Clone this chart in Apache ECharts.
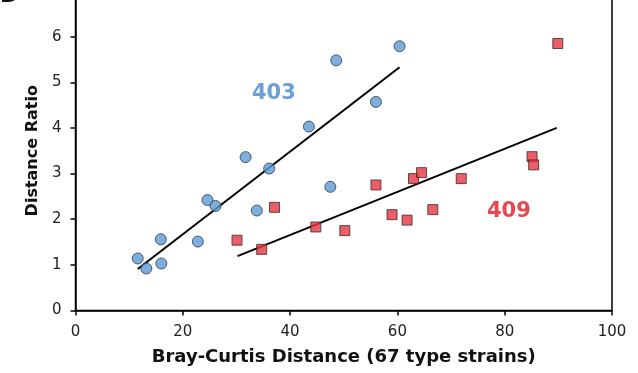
<!DOCTYPE html>
<html>
<head>
<meta charset="utf-8">
<script src="https://cdn.jsdelivr.net/npm/echarts@6/dist/echarts.min.js"></script>
<style>
html,body{margin:0;padding:0;background:#fff;}
#chart{width:638px;height:373px;}
</style>
</head>
<body>
<div id="chart"></div>
<script>
// Strain 403 (blue circles): [Bray-Curtis distance, distance ratio]
const strain403 = [
  [11.6,1.14],[13.2,0.92],[15.9,1.56],[16.0,1.03],[22.8,1.51],
  [24.6,2.42],[26.1,2.29],[31.7,3.36],[33.8,2.19],[36.1,3.11],
  [43.5,4.03],[47.5,2.71],[48.6,5.48],[56.0,4.57],[60.4,5.79]
];
// Strain 409 (red squares)
const strain409 = [
  [30.1,1.54],[34.7,1.34],[37.1,2.26],[44.8,1.83],[50.2,1.75],
  [56.0,2.75],[59.0,2.10],[61.8,1.98],[63.0,2.89],[64.5,3.02],
  [66.6,2.21],[71.9,2.89],[85.1,3.37],[85.4,3.19],[89.9,5.85]
];
// Fitted trend lines (endpoints)
const fit403 = [[11.6,0.91],[60.4,5.33]];
const fit409 = [[30.2,1.19],[89.7,4.00]];
const xTicks = [0,20,40,60,80,100];
const yTicks = [0,1,2,3,4,5,6,7];

const chart = echarts.init(document.getElementById('chart'), null, {renderer:'canvas'});
const font = 'DejaVu Sans, Verdana, sans-serif';
chart.setOption({
  animation:false,
  backgroundColor:'#ffffff',
  grid:{left:75.5,right:26,top:-9,bottom:62.5,show:true,borderColor:'#000',borderWidth:1.5,
        backgroundColor:'transparent',containLabel:false,outerBoundsMode:'none'},
  xAxis:{
    type:'value',min:xTicks[0],max:xTicks[xTicks.length-1],interval:20,
    name:'Bray-Curtis Distance (67 type strains)',nameLocation:'middle',nameGap:38,
    nameTextStyle:{fontFamily:font,fontWeight:'bold',fontSize:18,color:'#111'},
    axisLine:{show:true,lineStyle:{color:'#000',width:1.5}},
    axisTick:{show:true,length:5,lineStyle:{color:'#000',width:1.5}},
    axisLabel:{fontFamily:font,fontSize:15,color:'#222',margin:14},
    splitLine:{show:false}
  },
  yAxis:{
    type:'value',min:yTicks[0],max:yTicks[yTicks.length-1],interval:1,
    name:'Distance Ratio',nameLocation:'middle',nameGap:24,
    nameTextStyle:{fontFamily:font,fontWeight:'bold',fontSize:16,color:'#111'},
    axisLine:{show:true,lineStyle:{color:'#000',width:1.5}},
    axisTick:{show:true,length:5,lineStyle:{color:'#000',width:1.5}},
    axisLabel:{fontFamily:font,fontSize:15,color:'#222',margin:14},
    splitLine:{show:false}
  },
  graphic:[
    {type:'text',x:252,y:83,style:{text:'403',fontFamily:font,fontWeight:'bold',fontSize:21,fill:'#6a9fd8'}},
    {type:'text',x:487,y:201,style:{text:'409',fontFamily:font,fontWeight:'bold',fontSize:21,fill:'#e8474f'}},
    {type:'text',x:0,y:-15,style:{text:'B',fontFamily:font,fontWeight:'bold',fontSize:22,fill:'#111'}}
  ],
  series:[
    {type:'line',data:fit403,showSymbol:false,symbol:'none',lineStyle:{color:'#000',width:2},z:2},
    {type:'line',data:fit409,showSymbol:false,symbol:'none',lineStyle:{color:'#000',width:2},z:2},
    {type:'scatter',data:strain403,symbol:'circle',symbolSize:11,
     itemStyle:{color:'#5b9bd5',borderColor:'#2b3a4a',borderWidth:1},z:3},
    {type:'scatter',data:strain409,symbol:'rect',symbolSize:10,
     itemStyle:{color:'#e8343f',borderColor:'#3a2a2a',borderWidth:1},z:3}
  ]
});
</script>
</body>
</html>
